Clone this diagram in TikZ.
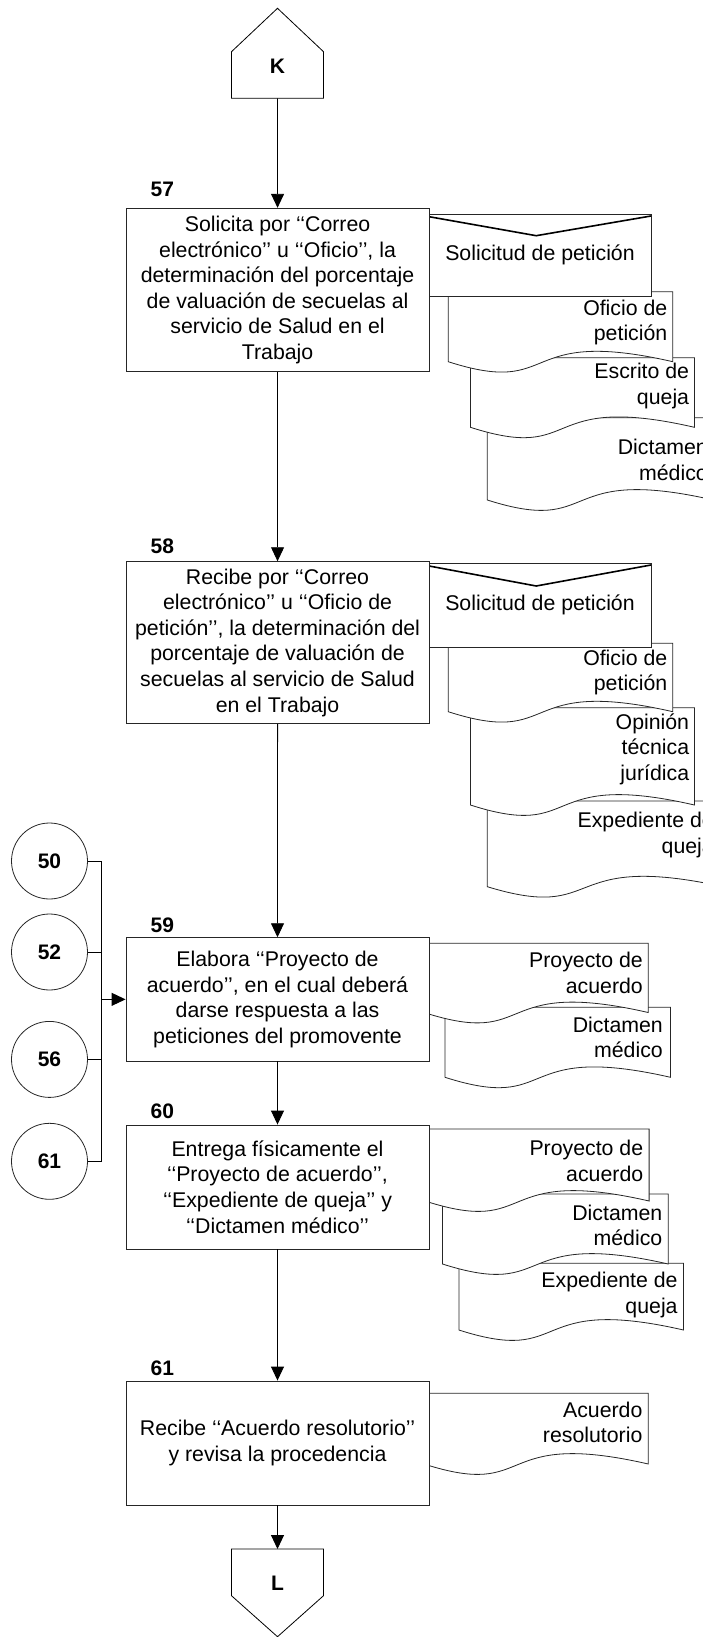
\documentclass[tikz,border=0pt]{standalone}
\usepackage{fontspec}
\setmainfont{Liberation Sans}
\usetikzlibrary{arrows.meta}

% document symbol: left x, top y, width, bottom y at the left edge (wavy bottom)
\newcommand{\docshape}[4]{%
  \filldraw[docline] (#1,#4) -- (#1,#2) -- ({#1+#3},#2) -- ({#1+#3},#4)
    .. controls ({#1+0.3*#3},{#4-36}) and ({#1+0.5*#3},{#4+36}) .. (#1,#4) -- cycle;}

\begin{document}
\begin{tikzpicture}[x=1pt,y=-1pt,
  every node/.style={font=\fontsize{21.3}{25.6}\selectfont},
  stepbox/.style={draw=black!85, line width=0.9pt, fill=white, minimum width=303pt,
                  align=center, inner sep=0pt},
  numlabel/.style={font=\fontsize{21}{25}\selectfont\bfseries, anchor=west, inner sep=0pt},
  doctext/.style={anchor=east, align=right, inner sep=0pt},
  docline/.style={draw=black!85, line width=0.8pt, fill=white},
  flow/.style={line width=0.9pt, -{Triangle[length=14pt,width=13pt]}},
  link/.style={line width=0.9pt},
  refcircle/.style={circle, draw=black!85, line width=0.8pt, minimum size=76pt,
                    inner sep=0pt, font=\fontsize{21}{25}\selectfont\bfseries},
]
\useasboundingbox (0,0) rectangle (703,1637);

% ---- off-page connector K ----
\draw[line width=0.8pt] (231.5,98.3) -- (231.5,51.7) -- (277.5,8.3) -- (323.5,51.7) -- (323.5,98.3) -- cycle;
\node[font=\fontsize{21}{25}\selectfont\bfseries] (K) at (277.5,66) {K};
\coordinate (Kout) at (277.5,98.3);

% ---- step 57 ----
\docshape{487.3}{417.7}{226}{500}
\node[doctext] (d57d) at (708,460) {Dictamen\\médico};
\docshape{470.4}{357.7}{224}{427.3}
\node[doctext] (d57c) at (689.3,385.8) {Escrito de\\queja};
\docshape{448.2}{291.7}{224.6}{361.7}
\node[doctext] (d57b) at (667.5,322.5) {Oficio de\\petición};
\filldraw[docline] (429.1,214) rectangle (651,296);
\draw[line width=1.6pt] (429.1,216.7) -- (536.2,235.7) -- (651,216);
\node (d57a) at (540,255) {Solicitud de petición};

\node[stepbox, minimum height=163.4pt] (b57) at (277.55,290)
  {Solicita por ‘‘Correo\\electrónico’’ u ‘‘Oficio’’, la\\determinación del porcentaje\\de valuación de secuelas al\\servicio de Salud en el\\Trabajo};
\node[numlabel] (n57) at (150.5,189) {57};

% ---- step 58 ----
\docshape{487.3}{801}{236}{886.7}
\node[doctext] (d58d) at (714,835) {Expediente de\\queja};
\docshape{470.4}{707.7}{224}{805}
\node[doctext] (d58c) at (689.3,749) {Opinión\\técnica\\jurídica};
\docshape{448.2}{643.3}{224.6}{711.7}
\node[doctext] (d58b) at (667.5,672.5) {Oficio de\\petición};
\filldraw[docline] (429.1,563.3) rectangle (651,647.3);
\draw[line width=1.6pt] (429.1,566) -- (536.2,586) -- (651,565);
\node (d58a) at (540,605) {Solicitud de petición};

\node[stepbox, minimum height=161.6pt] (b58) at (277.55,642.5)
  {Recibe por ‘‘Correo\\electrónico’’ u ‘‘Oficio de\\petición’’, la determinación del\\porcentaje de valuación de\\secuelas al servicio de Salud\\en el Trabajo};
\node[numlabel] (n58) at (150.5,546.7) {58};

% ---- step 59 ----
\docshape{445}{1007.3}{225.5}{1077.3}
\node[doctext] (d59b) at (663,1037.5) {Dictamen\\médico};
\docshape{424}{943.3}{224.2}{1012.5}
\node[doctext] (d59a) at (643,973) {Proyecto de\\acuerdo};

\node[stepbox, minimum height=123.3pt] (b59) at (277.5,999.35)
  {Elabora ‘‘Proyecto de\\acuerdo’’, en el cual deberá\\darse respuesta a las\\peticiones del promovente};
\node[numlabel] (n59) at (150.5,925) {59};

% ---- step 60 ----
\docshape{458.9}{1263.3}{224.6}{1330}
\node[doctext] (d60c) at (677.8,1295) {Expediente de\\queja};
\docshape{442.5}{1194}{225.7}{1264}
\node[doctext] (d60b) at (662.5,1225.3) {Dictamen\\médico};
\docshape{425}{1129}{224.1}{1201}
\node[doctext] (d60a) at (643.4,1160.8) {Proyecto de\\acuerdo};

\node[stepbox, minimum height=124pt] (b60) at (277.5,1187)
  {Entrega físicamente el\\‘‘Proyecto de acuerdo’’,\\‘‘Expediente de queja’’ y\\‘‘Dictamen médico’’};
\node[numlabel] (n60) at (150.5,1111.7) {60};

% ---- step 61 ----
\docshape{424}{1393.3}{224.3}{1464}
\node[doctext] (d61a) at (642.6,1422.5) {Acuerdo\\resolutorio};

\node[stepbox, minimum height=124pt] (b61) at (277.5,1443)
  {Recibe ‘‘Acuerdo resolutorio’’\\y revisa la procedencia};
\node[numlabel] (n61) at (150.5,1368.3) {61};

% ---- off-page connector L ----
\draw[line width=0.8pt] (231.5,1549) -- (323.5,1549) -- (323.5,1595.7) -- (277.5,1636.7) -- (231.5,1595.7) -- cycle;
\node[font=\fontsize{21}{25}\selectfont\bfseries] (L) at (277.5,1583.3) {L};
\coordinate (Lin) at (277.5,1549);

% ---- incoming references ----
\node[refcircle] (c50) at (49.5,861) {50};
\node[refcircle] (c52) at (49.5,952) {52};
\node[refcircle] (c56) at (49.5,1059.4) {56};
\node[refcircle] (c61) at (49.5,1161.3) {61};
\coordinate (join) at (101.7,999.35);
\draw[link] (c50.east) -| (join);
\draw[link] (c52.east) -| (join);
\draw[link] (c56.east) -| (join);
\draw[link] (c61.east) -| (join);
\draw[flow] (join) -- (b59.west);

% ---- main flow ----
\draw[flow] (Kout) -- (b57.north);
\draw[flow] (b57.south) -- (b58.north);
\draw[flow] (b58.south) -- (b59.north);
\draw[flow] (b59.south) -- (b60.north);
\draw[flow] (b60.south) -- (b61.north);
\draw[flow] (b61.south) -- (Lin);
\end{tikzpicture}
\end{document}
